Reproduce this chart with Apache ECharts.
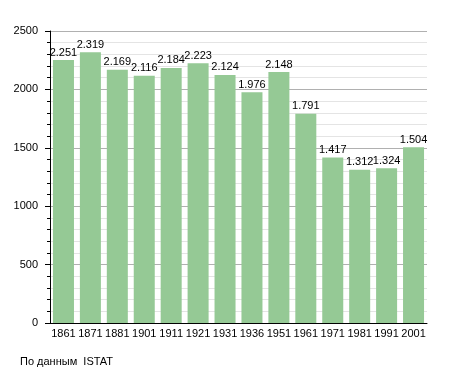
<!DOCTYPE html>
<html><head><meta charset="utf-8">
<script src="https://cdn.jsdelivr.net/npm/echarts@6/dist/echarts.min.js"></script>
<style>html,body{margin:0;padding:0;background:#fff}#c{width:455px;height:373px}</style>
</head><body><div id="c"></div>
<script>
const years = ['1861','1871','1881','1901','1911','1921','1931','1936','1951','1961','1971','1981','1991','2001'];
const population = [2251,2319,2169,2116,2184,2223,2124,1976,2148,1791,1417,1312,1324,1504];
const yTicks = [0,500,1000,1500,2000,2500];
const sourceText = 'По данным  ISTAT';

const fmt = v => { const s = String(v); return s.length > 3 ? s.slice(0, s.length-3) + '.' + s.slice(-3) : s; };
const chart = echarts.init(document.getElementById('c'));
const font = 'Liberation Sans, Arial, sans-serif';
chart.setOption({
  animation: false,
  grid: {left: 50, right: 28, top: 31, bottom: 50, containLabel: false},
  graphic: [{type: 'text', left: 20, top: 356, style: {text: sourceText, font: '11px ' + font, fill: '#000'}}],
  xAxis: {
    type: 'category', data: years,
    axisLine: {lineStyle: {color: '#000', width: 1}},
    axisTick: {show: false},
    axisLabel: {color: '#000', fontFamily: font, fontSize: 11, margin: 5, interval: 0}
  },
  yAxis: [{
    type: 'value', min: yTicks[0], max: yTicks[yTicks.length-1], interval: 500,
    axisLine: {show: true, lineStyle: {color: '#000'}},
    axisTick: {show: true, length: 5, lineStyle: {color: '#000'}},
    minorTick: {show: true, splitNumber: 5, length: 3, lineStyle: {color: '#000'}},
    splitLine: {show: true, lineStyle: {color: '#b0b0b0'}},
    minorSplitLine: {show: true, lineStyle: {color: '#e4e4e4'}},
    axisLabel: {color: '#000', fontFamily: font, fontSize: 11, margin: 12, formatter: v => String(v)}
  }],
  series: [{
    type: 'bar', data: population, barCategoryGap: '22%',
    itemStyle: {color: '#95c995'},
    label: {show: true, position: 'top', distance: 2, color: '#000', fontFamily: font, fontSize: 11,
      formatter: p => fmt(p.value)}
  }]
});
</script></body></html>
